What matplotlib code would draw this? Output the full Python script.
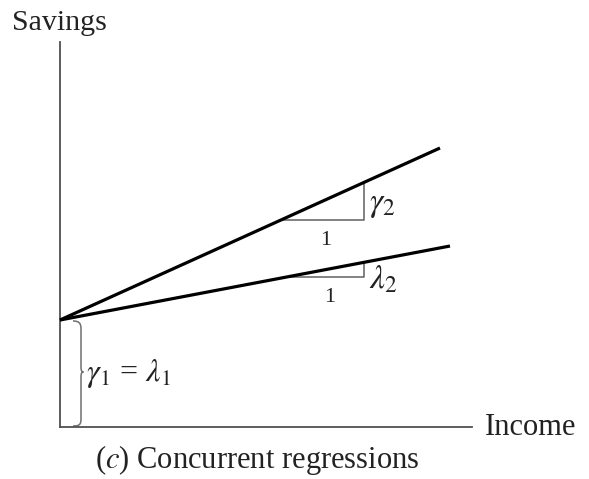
#!/usr/bin/env python3
"""Concurrent regressions sketch: two savings lines sharing one intercept."""

import matplotlib
matplotlib.use("Agg")
import matplotlib.pyplot as plt
from matplotlib.path import Path
from matplotlib.patches import PathPatch
import numpy as np


INTERCEPT = 1.07            # gamma_1 = lambda_1
SLOPES = [0.4526, 0.1897]   # gamma_2, lambda_2
LINE_END = [3.80, 3.90]     # income where each line stops
TRI_LEFT = [2.21, 2.29]     # left end of each slope triangle
TRI_RIGHT = [3.04, 3.04]    # right end (vertical leg)
SLOPE_LABELS = [r"$\gamma_2$", r"$\lambda_2$"]
RUN_LABEL = "1"
INTERCEPT_LABEL = r"$\gamma_1$ = $\lambda_1$"

W, H = 589, 479

plt.rcParams["font.family"] = ["Liberation Serif", "DejaVu Serif"]
plt.rcParams["mathtext.fontset"] = "stix"

fig = plt.figure(figsize=(W / 100, H / 100), dpi=100)
fig.patch.set_facecolor("white")

# axes origin sits at pixel (60, 427), 100 px per data unit
x0, y0 = 60, 427
ax = fig.add_axes([x0 / W, (H - y0) / H, 412 / W, 385 / H])
ax.set_xlim(0, 4.12)
ax.set_ylim(0, 3.85)
for side in ("top", "right"):
    ax.spines[side].set_visible(False)
for side in ("left", "bottom"):
    ax.spines[side].set_color("#505050")
    ax.spines[side].set_linewidth(1.3)
ax.set_xticks([])
ax.set_yticks([])
ax.patch.set_alpha(0)

for slope, x_end, xl, xr, label, dy in zip(
        SLOPES, LINE_END, TRI_LEFT, TRI_RIGHT, SLOPE_LABELS, (0.0, -0.06)):
    xs = np.array([0.0, x_end])
    ax.plot(xs, INTERCEPT + slope * xs, color="black", lw=2.3,
            solid_capstyle="butt", clip_on=False, zorder=3)
    y_base = INTERCEPT + slope * xl
    y_top = INTERCEPT + slope * xr
    ax.plot([xl, xr, xr], [y_base, y_base, y_top], color="#606060",
            lw=1.1, clip_on=False, zorder=2)
    ax.text(xr + 0.05, (y_base + y_top) / 2 - 0.04 + dy, label,
            fontsize=24, ha="left", va="center", color="#222222")
    ax.text((xl + xr) / 2 + 0.03, y_base - 0.11, RUN_LABEL, fontsize=16,
            ha="center", va="top", color="#222222")

# curly brace marking the shared intercept
verts = [
    (0.13, 1.06), (0.19, 1.06), (0.21, 1.04), (0.21, 0.98),
    (0.21, 0.60),
    (0.21, 0.56), (0.22, 0.55), (0.235, 0.55),
    (0.22, 0.55), (0.21, 0.54), (0.21, 0.50),
    (0.21, 0.08),
    (0.21, 0.02), (0.19, 0.01), (0.13, 0.01),
]
codes = ([Path.MOVETO] + [Path.CURVE4] * 3 + [Path.LINETO]
         + [Path.CURVE4] * 6 + [Path.LINETO] + [Path.CURVE4] * 3)
ax.add_patch(PathPatch(Path(verts, codes), fill=False, ec="#707070",
                       lw=1.1, clip_on=False))
ax.text(0.26, 0.53, INTERCEPT_LABEL, fontsize=23, ha="left", va="center",
        color="#222222")

fig.text(12 / W, 1 - 30 / H, "Savings", fontsize=21.5, ha="left",
         va="baseline", color="#222222")
fig.text(485 / W, 1 - 435 / H, "Income", fontsize=22, ha="left",
         va="baseline", color="#222222")
fig.text(95 / W, 1 - 468 / H, r"($\it{c}$) Concurrent regressions",
         fontsize=22, ha="left", va="baseline", color="#222222")

fig.savefig("out.png", dpi=100, facecolor="white")
